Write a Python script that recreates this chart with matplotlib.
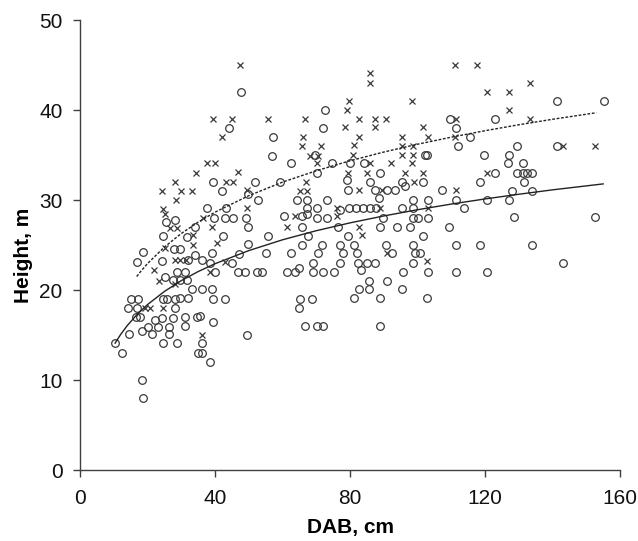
import numpy as np
import matplotlib
matplotlib.use("Agg")
import matplotlib.pyplot as plt

plt.rcParams['font.family'] = ['Liberation Sans', 'DejaVu Sans']

# open circles (x = DAB cm, y = height m)
circ_x = [10.4, 12.3, 14.6, 14.3, 15.1, 17.3, 16.8, 16.5, 17.8, 18.3, 18.3, 18.8, 16.8, 18.8,
          20.2, 21.2, 22.2, 23.2, 24.2, 24.7, 24.7, 25.7, 26.4, 26.4, 27.7, 28.1, 28.1, 28.6,
          29.6, 32.1, 31.1, 34.8, 31.1, 33.1, 35.1, 36.0, 38.5,
          25.5, 28.1, 34.1, 24.7, 27.9, 29.6, 24.2, 34.1, 28.6, 31.1, 25.2, 27.7, 29.6, 31.6,
          31.8, 32.0,
          47.6, 72.6, 44.0, 71.9, 57.1, 56.8, 62.4, 69.6, 39.5, 51.9, 59.3, 70.1, 74.8, 42.2,
          49.9, 52.8, 64.2, 67.2, 73.1, 37.5, 43.3, 67.2, 70.1, 39.7, 43.0, 45.2, 49.2, 60.3,
          65.7, 67.2, 70.1, 73.1, 49.9, 65.7, 76.5, 42.3, 55.8, 67.7, 49.7, 65.7, 71.6, 39.0,
          47.2, 55.1, 62.4, 70.6, 36.0, 38.5, 44.9, 69.1, 65.0, 46.9, 48.9, 52.4, 53.8, 61.4,
          63.7, 69.1, 72.1, 75.3, 40.0, 36.0, 39.0, 39.5, 43.0, 65.2, 68.6, 65.0, 35.6, 39.5,
          66.7, 70.1, 72.1, 49.4, 36.0,
          109.6, 111.4, 115.6, 112.1, 102.2, 102.9, 80.0, 84.2, 88.9, 95.3, 101.7, 85.9, 79.2,
          79.5, 87.4, 90.9, 93.3, 96.3, 107.2, 88.7, 98.6, 103.2, 111.4, 79.8, 81.8, 83.8,
          85.8, 87.8, 95.3, 98.6, 113.8, 77.0, 89.9, 98.6, 100.0, 103.2, 88.9, 93.8, 97.8,
          109.4, 79.5, 101.7, 77.0, 81.2, 90.7, 98.6, 111.4, 78.0, 82.0, 92.4, 99.3, 100.7,
          77.0, 82.5, 84.9, 87.4, 98.6, 83.2, 95.8, 103.2, 111.4, 85.7, 91.1, 82.8, 85.7,
          95.3, 81.2, 88.9, 102.9, 88.9,
          141.2, 155.3, 123.0, 129.4, 141.4, 119.7, 127.2, 126.9, 131.2, 123.0, 129.6, 131.2,
          132.3, 133.8, 118.5, 131.6, 127.9, 133.8, 120.7, 127.2, 128.6, 152.6, 118.5, 133.8,
          143.2, 120.7]
circ_y = [14.1, 13.0, 15.1, 18.0, 19.0, 19.0, 18.0, 17.0, 17.0, 15.5, 10.0, 8.0, 23.1, 24.2,
          15.9, 15.1, 16.7, 15.9, 16.9, 14.1, 19.0, 19.0, 15.9, 15.1, 16.9, 19.0, 18.0, 14.1,
          19.1, 19.1, 17.0, 17.0, 16.0, 20.1, 13.0, 13.0, 12.0,
          27.6, 27.8, 27.0, 26.0, 24.6, 24.6, 23.2, 23.9, 22.0, 22.0, 21.5, 21.1, 21.1, 21.1,
          25.9, 23.3,
          42.0, 40.0, 38.0, 38.0, 37.0, 34.9, 34.1, 35.0, 32.0, 32.0, 32.0, 33.0, 34.1, 31.0,
          30.7, 30.0, 30.0, 30.0, 30.0, 29.1, 29.1, 29.1, 29.1, 28.0, 28.0, 28.0, 28.0, 28.2,
          28.2, 28.5, 28.0, 28.0, 27.0, 27.0, 27.0, 26.0, 26.0, 26.0, 25.1, 25.0, 25.0, 24.1,
          24.0, 24.1, 24.1, 24.1, 23.3, 23.0, 23.0, 23.0, 22.4, 22.0, 22.0, 22.0, 22.0, 22.0,
          22.0, 22.0, 22.0, 22.0, 22.0, 20.1, 20.1, 19.0, 19.0, 19.0, 19.0, 18.0, 17.1, 16.5,
          16.0, 16.0, 16.0, 15.0, 14.1,
          39.0, 38.0, 37.0, 36.0, 35.0, 35.0, 34.1, 34.1, 33.0, 32.0, 32.0, 32.0, 32.2,
          31.1, 31.1, 31.1, 31.1, 31.6, 31.1, 30.2, 30.0, 30.0, 30.0, 29.1, 29.1, 29.1,
          29.1, 29.1, 29.1, 29.1, 29.1, 28.9, 28.0, 28.0, 28.0, 28.0, 27.0, 27.0, 27.0,
          27.0, 26.0, 26.0, 25.0, 25.0, 25.0, 25.0, 25.0, 24.1, 24.1, 24.1, 24.1, 24.1,
          23.0, 23.0, 23.0, 23.0, 23.0, 22.2, 22.0, 22.0, 22.0, 21.0, 21.0, 20.1, 20.1,
          20.1, 19.1, 19.1, 19.1, 16.0,
          41.0, 41.0, 39.0, 36.0, 36.0, 35.0, 35.0, 34.1, 34.1, 33.0, 33.0, 33.0,
          33.0, 33.0, 32.0, 32.0, 31.0, 31.0, 30.0, 30.0, 28.1, 28.1, 25.0, 25.0,
          23.0, 22.0]

# crosses
cross_x = [28.1, 24.2, 29.9, 33.1, 34.4, 28.4, 24.7, 25.2, 26.7, 28.6, 33.6, 33.6, 25.2, 28.1,
           29.6, 31.5, 22.0, 28.1, 19.3, 20.7, 24.7, 23.5,
           47.4, 39.5, 45.1, 55.8, 66.7, 42.2, 66.0, 65.7, 71.3, 68.2, 70.6, 70.1, 37.5, 40.0,
           46.9, 43.3, 45.2, 49.4, 67.0, 65.2, 67.2, 49.4, 36.5, 63.7, 76.0, 76.0, 61.4, 39.0,
           40.5, 43.0, 38.5, 36.0,
           111.1, 117.5, 85.9, 85.9, 79.8, 98.3, 79.2, 82.8, 87.4, 90.7, 111.4, 78.5, 87.4,
           101.7, 82.8, 95.3, 103.2, 111.1, 81.2, 95.3, 98.6, 81.0, 95.3, 98.6, 98.3, 85.9,
           92.0, 79.5, 84.9, 96.3, 101.7, 99.0, 82.8, 111.4, 89.4, 89.0, 103.2, 82.8, 83.5,
           90.9, 102.7,
           120.7, 127.2, 133.3, 127.2, 133.3, 143.0, 152.6, 120.7]
cross_y = [32.0, 31.0, 31.0, 31.0, 33.0, 30.0, 29.0, 28.5, 26.9, 26.9, 26.1, 25.0, 24.7, 23.3,
           23.3, 23.3, 22.2, 20.7, 18.0, 18.0, 18.0, 21.0,
           45.0, 39.0, 39.0, 39.0, 39.0, 37.0, 37.0, 36.0, 36.0, 34.9, 34.9, 34.1, 34.1, 34.1,
           33.1, 32.0, 32.0, 31.1, 32.0, 31.0, 31.0, 29.1, 28.0, 28.2, 29.1, 28.2, 27.0, 27.0,
           25.2, 23.1, 22.0, 15.0,
           45.0, 45.0, 44.1, 43.0, 41.0, 41.0, 40.0, 39.0, 39.0, 39.0, 39.0, 38.1, 38.1,
           38.1, 37.0, 37.0, 37.0, 37.0, 36.1, 36.0, 36.0, 35.0, 35.0, 35.0, 34.1, 34.1,
           34.1, 33.0, 33.0, 33.0, 33.0, 32.0, 31.1, 31.1, 31.1, 29.1, 29.1, 27.0, 26.1,
           24.1, 23.2,
           42.0, 42.0, 43.0, 40.0, 39.0, 36.0, 36.0, 33.0]

# trend lines
solid_x = [10.4, 12, 14, 17, 20, 25, 30, 35, 40, 50, 60, 70, 80, 90, 100, 110, 120, 130, 140, 155]
solid_y = [14.1, 15.04, 16.05, 17.32, 18.38, 19.84, 21.04, 22.05, 22.92, 24.38, 25.58, 26.59,
           27.46, 28.23, 28.92, 29.55, 30.12, 30.64, 31.13, 31.79]
dot_x = [16.8, 18, 20, 25, 30, 35, 40, 50, 60, 70, 80, 90, 100, 110, 120, 130, 140, 153]
dot_y = [21.5, 22.07, 22.94, 24.77, 26.28, 27.54, 28.65, 30.48, 31.99, 33.25, 34.36, 35.33,
         36.2, 36.98, 37.7, 38.36, 38.97, 39.7]

fig = plt.figure(figsize=(6.38, 5.41), dpi=100)
ax = fig.add_axes([0.1254, 0.1312, 0.8464, 0.8318])

mc = '#3a3a3a'
ax.plot(circ_x, circ_y, 'o', ms=5.5, mfc='none', mec=mc, mew=0.9)
ax.plot(cross_x, cross_y, 'x', ms=5, mec=mc, mew=0.9)
ax.plot(solid_x, solid_y, '-', color='#222222', lw=1.0)
ax.plot(dot_x, dot_y, linestyle=(0, (2, 1.2)), color='#222222', lw=1.0)

ax.set_xlim(0, 160)
ax.set_ylim(0, 50)
ax.set_xticks([0, 40, 80, 120, 160])
ax.set_yticks([0, 10, 20, 30, 40, 50])
for s in ['top', 'right']:
    ax.spines[s].set_visible(False)
for s in ['left', 'bottom']:
    ax.spines[s].set_color('#404040')
    ax.spines[s].set_linewidth(1.0)
ax.tick_params(direction='out', length=5, width=1, color='#404040', labelsize=15,
               labelcolor='#111111')
ax.tick_params(axis='x', pad=9)
ax.tick_params(axis='y', pad=7.5)
ax.set_xlabel("DAB, cm", fontsize=15, fontweight='bold')
ax.set_ylabel("Height, m", fontsize=15, fontweight='bold')
ax.xaxis.set_label_coords(0.501, -0.107)
ax.yaxis.label.set_va('center')
ax.yaxis.set_label_coords(-0.105, 0.476)

fig.savefig("out.png", dpi=100)
